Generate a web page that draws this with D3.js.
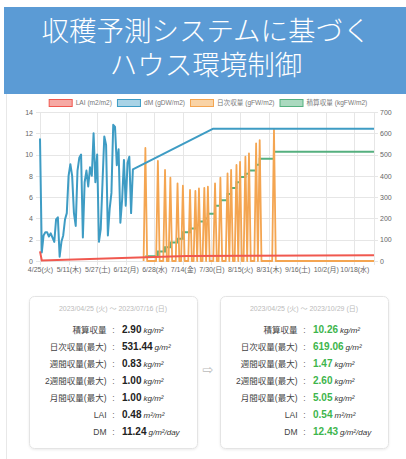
<!DOCTYPE html>
<html>
<head>
<meta charset="utf-8">
<script src="https://cdn.jsdelivr.net/npm/d3@7"></script>
<style>
  body { margin: 0; background: #fff; }
  svg { display: block; font-family: "Helvetica Neue", Arial, "Liberation Sans", "Noto Sans CJK JP", sans-serif; }
</style>
</head>
<body>
<svg id="chart" width="406" height="459"></svg>
<script>
// ---- data ----
const titleLines = ["収穫予測システムに基づく", "ハウス環境制御"];
const seriesNames = ["LAI (m2/m2)", "dM (gDW/m2)", "日次収量 (gFW/m2)", "積算収量 (kgFW/m2)"];
const seriesColors = ["#f0584f", "#3e9cc4", "#f4a551", "#55b07f"];
const seriesFills = ["#f6a9a4", "#a9d3e6", "#f9d3a6", "#aad9bf"];

const startDate = "2023-04-25";
const endDate = "2023-10-29";
const weekdays = ["日", "月", "火", "水", "木", "金", "土"];
const leftTicks = [0, 2, 4, 6, 8, 10, 12, 14];
const rightTicks = [0, 100, 200, 300, 400, 500, 600, 700];

// dM measured, one value per day from 4/25
const dmDaily = [11.5, 0.8, 2.4, 2.7, 2.7, 2.3, 2.6, 2.2, 1.8, 3.9, 4.1, 0.4, 1.8, 2.4, 3.9, 4.5,
  8.0, 9.1, 8.0, 4.5, 3.3, 8.5, 9.7, 10.0, 2.2, 7.4, 8.5, 7.0, 8.8, 8.0, 12.0, 7.4, 10.0, 1.8,
  3.0, 7.4, 11.7, 10.9, 2.4, 4.9, 6.4, 12.8, 12.6, 9.0, 10.5, 3.6, 5.8, 9.5, 5.2, 9.2, 9.8, 4.5, 8.6];
// dM predicted
const dmModelDates = ["2023-06-16", "2023-07-31", "2023-10-29"];
const dmModelValues = [8.6, 12.43, 12.43];

const laiDates = ["2023-04-25", "2023-04-26", "2023-07-16", "2023-10-29"];
const laiValues = [0.9, 0.05, 0.48, 0.54];

const harvestDates = ["2023-06-23", "2023-06-30", "2023-07-04", "2023-07-07", "2023-07-11", "2023-07-14",
  "2023-07-18", "2023-07-21", "2023-07-23", "2023-07-26", "2023-07-28", "2023-08-01", "2023-08-04",
  "2023-08-08", "2023-08-10", "2023-08-13", "2023-08-15", "2023-08-18", "2023-08-20", "2023-08-24",
  "2023-08-26", "2023-09-03"];
const dailyYield = [531, 470, 428, 391, 365, 354, 334, 329, 341, 344, 349, 365, 391, 412, 428, 451,
  466, 490, 506, 553, 568, 619];
const cumulativeYield = [0.45, 0.9, 1.3, 1.75, 2.1, 2.7, 3.05, 3.35, 3.7, 4.0, 4.45, 5.2, 5.7, 6.3,
  6.85, 7.4, 7.9, 8.2, 8.5, 9.05, 9.6, 10.26];
const yieldStartDate = "2023-06-22";

const summaryRanges = ["2023/04/25 (火) ～ 2023/07/16 (日)", "2023/04/25 (火) ～ 2023/10/29 (日)"];
const summaryLabels = ["積算収量", "日次収量(最大)", "週間収量(最大)", "2週間収量(最大)", "月間収量(最大)", "LAI", "DM"];
const summaryUnits = ["kg/m²", "g/m²", "kg/m²", "kg/m²", "kg/m²", "m²/m²", "g/m²/day"];
const summaryNow = ["2.90", "531.44", "0.83", "1.00", "1.00", "0.48", "11.24"];
const summaryForecast = ["10.26", "619.06", "1.47", "2.60", "5.05", "0.54", "12.43"];

// ---- drawing ----
const parse = d3.timeParse("%Y-%m-%d");
const svg = d3.select("#chart");

// page border line on the left
svg.append("line").attr("x1", 6.5).attr("x2", 6.5).attr("y1", 94).attr("y2", 459)
  .attr("stroke", "#e8e8e8");

// title banner (one text block, two lines)
svg.append("rect").attr("x", 4).attr("y", 7).attr("width", 402).attr("height", 87).attr("fill", "#5b9bd5");
const title = svg.append("text").attr("text-anchor", "middle").attr("fill", "#fff")
  .style("font-family", "'Noto Sans CJK JP', sans-serif").style("font-size", "27.5px").style("font-weight", 300);
title.selectAll("tspan").data(titleLines).enter().append("tspan")
  .attr("x", 206).attr("y", (d, i) => 40.5 + i * 34)
  .text((d) => d);

// scales
const m = { left: 40, right: 374, top: 112, bottom: 261 };
const x = d3.scaleTime().domain([parse(startDate), parse(endDate)]).range([m.left, m.right]);
const yL = d3.scaleLinear().domain([0, 14]).range([m.bottom, m.top]);
const yR = d3.scaleLinear().domain([0, 700]).range([m.bottom, m.top]);
const xTicks = d3.range(0, 187, 16).map((d) => d3.timeDay.offset(parse(startDate), d));
const fmtTick = (d) => `${d.getMonth() + 1}/${d.getDate()}(${weekdays[d.getDay()]})`;

// grid
const grid = svg.append("g").attr("stroke", "#e6e6e6").attr("stroke-width", 1);
grid.selectAll(".h").data(leftTicks).enter().append("line")
  .attr("x1", m.left - 4).attr("x2", m.right + 4)
  .attr("y1", (d) => Math.round(yL(d)) + 0.5).attr("y2", (d) => Math.round(yL(d)) + 0.5);
grid.selectAll(".v").data(xTicks).enter().append("line")
  .attr("y1", m.top).attr("y2", m.bottom + 4)
  .attr("x1", (d) => Math.round(x(d)) + 0.5).attr("x2", (d) => Math.round(x(d)) + 0.5);
grid.append("line").attr("x1", m.right + 0.5).attr("x2", m.right + 0.5).attr("y1", m.top).attr("y2", m.bottom + 4);

// axes
const axisL = svg.append("g").attr("transform", `translate(${m.left - 7},0)`)
  .call(d3.axisLeft(yL).tickValues(leftTicks).tickSize(0).tickPadding(0));
const axisR = svg.append("g").attr("transform", `translate(${m.right + 6},0)`)
  .call(d3.axisRight(yR).tickValues(rightTicks).tickSize(0).tickPadding(0));
const axisB = svg.append("g").attr("transform", `translate(0,${m.bottom + 6})`)
  .call(d3.axisBottom(x).tickValues(xTicks).tickFormat(fmtTick).tickSize(0).tickPadding(0));
[axisL, axisR, axisB].forEach((g) => {
  g.select(".domain").remove();
  g.selectAll("text").attr("fill", "#666").style("font-size", "7px")
    .style("font-family", "'Helvetica Neue', Arial, 'Noto Sans CJK JP', sans-serif");
});
axisB.selectAll("text").attr("dy", "0.7em");

// series
const lineL = d3.line().x((d) => x(d.date)).y((d) => yL(d.value));
const lineR = d3.line().x((d) => x(d.date)).y((d) => yR(d.value));

const greenData = harvestDates.map((d, i) => ({ date: parse(d), value: cumulativeYield[i] }));
greenData.push({ date: parse(endDate), value: cumulativeYield[cumulativeYield.length - 1] });
svg.append("path").datum(greenData).attr("fill", "none").attr("stroke", seriesColors[3])
  .attr("stroke-width", 2).attr("d", lineL.curve(d3.curveStepAfter));
lineL.curve(d3.curveLinear);

const yieldByDay = new Map(harvestDates.map((d, i) => [d, dailyYield[i]]));
const fmtKey = d3.timeFormat("%Y-%m-%d");
const orangeData = d3.timeDay.range(parse(yieldStartDate), d3.timeDay.offset(parse(endDate), 1))
  .map((d) => ({ date: d, value: yieldByDay.get(fmtKey(d)) || 0 }));
svg.append("path").datum(orangeData).attr("fill", "none").attr("stroke", seriesColors[2])
  .attr("stroke-width", 1.8).attr("stroke-linejoin", "round").attr("d", lineR);

const dmData = dmDaily.map((v, i) => ({ date: d3.timeDay.offset(parse(startDate), i), value: v }))
  .concat(dmModelDates.slice(1).map((d, i) => ({ date: parse(d), value: dmModelValues[i + 1] })));
svg.append("path").datum(dmData).attr("fill", "none").attr("stroke", seriesColors[1])
  .attr("stroke-width", 2).attr("stroke-linejoin", "round").attr("d", lineL);

const laiData = laiDates.map((d, i) => ({ date: parse(d), value: laiValues[i] }));
svg.append("path").datum(laiData).attr("fill", "none").attr("stroke", seriesColors[0])
  .attr("stroke-width", 2).attr("d", lineL);

// legend
const legend = svg.append("g");
let lx = 0;
const items = legend.selectAll("g").data(seriesNames).enter().append("g");
items.each(function (d, i) {
  const g = d3.select(this);
  g.append("rect").attr("x", 0.5).attr("y", -3.5).attr("width", 23).attr("height", 7)
    .attr("fill", seriesFills[i]).attr("stroke", seriesColors[i]).attr("stroke-width", 1);
  const t = g.append("text").attr("x", 27).attr("y", 2.3).attr("fill", "#777").style("font-size", "6.6px").text(d);
  g.attr("transform", `translate(${lx},0)`);
  lx += 27 + t.node().getComputedTextLength() + 5;
});
legend.attr("transform", `translate(${208 - (lx - 5) / 2},103)`);

// summary cards
const defs = svg.append("defs");
defs.append("filter").attr("id", "shadow").attr("x", "-10%").attr("y", "-10%").attr("width", "120%").attr("height", "120%")
  .append("feDropShadow").attr("dx", 0).attr("dy", 1).attr("stdDeviation", 1.2).attr("flood-color", "#000").attr("flood-opacity", 0.08);

const cards = [
  { x: 29, range: summaryRanges[0], values: summaryNow, color: "#222" },
  { x: 220, range: summaryRanges[1], values: summaryForecast, color: "#3db54c" }
];
cards.forEach((c) => {
  const g = svg.append("g").attr("transform", `translate(${c.x},296)`);
  g.append("rect").attr("x", 0.5).attr("y", 0.5).attr("width", 168).attr("height", 152).attr("rx", 5)
    .attr("fill", "#fff").attr("stroke", "#e4e4e4").attr("filter", "url(#shadow)");
  g.append("text").attr("x", 84).attr("y", 14.5).attr("text-anchor", "middle").attr("fill", "#bbb")
    .style("font-size", "7px").text(c.range);
  const rows = g.selectAll(".row").data(summaryLabels).enter().append("g")
    .attr("transform", (d, i) => `translate(0,${37 + i * 17})`);
  rows.append("text").attr("x", 77.5).attr("text-anchor", "end").attr("fill", "#444")
    .style("font-size", "8.5px").text((d) => d);
  rows.append("text").attr("x", 84.5).attr("text-anchor", "middle").attr("fill", "#666")
    .style("font-size", "8.5px").text(":");
  const v = rows.append("text").attr("x", 93);
  v.append("tspan").attr("fill", c.color).style("font-size", "10px").style("font-weight", "bold")
    .text((d, i) => c.values[i]);
  v.append("tspan").attr("dx", 2).attr("fill", "#333").style("font-size", "8px").style("font-style", "italic")
    .text((d, i) => summaryUnits[i]);
});

// arrow between the cards
svg.append("text").attr("x", 208).attr("y", 374).attr("text-anchor", "middle").attr("fill", "#bbb")
  .style("font-size", "13px").style("font-family", "'DejaVu Sans', sans-serif").text("⇨");
</script>
</body>
</html>
